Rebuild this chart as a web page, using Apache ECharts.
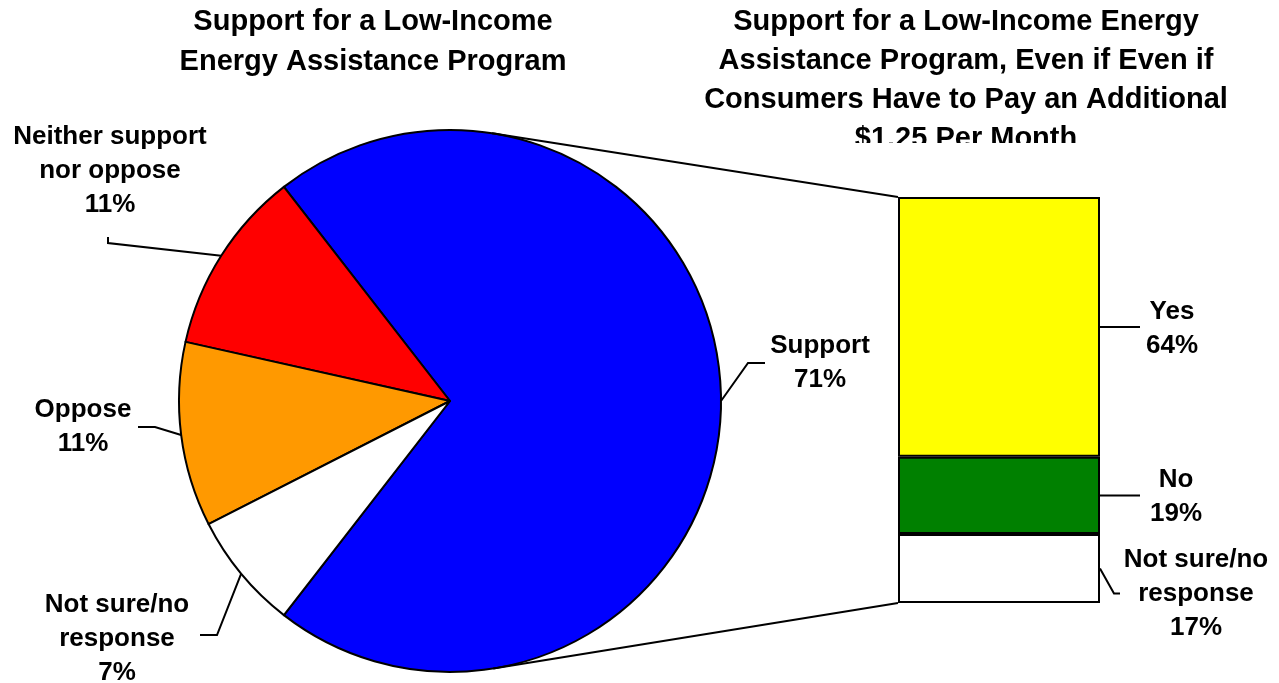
<!DOCTYPE html>
<html>
<head>
<meta charset="utf-8">
<script src="https://cdn.jsdelivr.net/npm/echarts@6/dist/echarts.min.js"></script>
<style>
html,body{margin:0;padding:0;background:#fff;}
#main{width:1279px;height:683px;}
</style>
</head>
<body>
<div id="main"></div>
<script>
// data
var pieNames = ['Support', 'Neither support\nnor oppose', 'Oppose', 'Not sure/no\nresponse'];
var pieValues = [71, 11, 11, 7];
var pieColors = ['#0000ff', '#ff0000', '#ff9900', '#ffffff'];

var barNames = ['Not sure/no\nresponse', 'No', 'Yes'];   // bottom -> top
var barValues = [17, 19, 64];
var barColors = ['#ffffff', '#008000', '#ffff00'];

var leftTitle = 'Support for a Low-Income\nEnergy Assistance Program';
var rightTitle = 'Support for a Low-Income Energy\nAssistance Program, Even if Even if\nConsumers Have to Pay an Additional\n$1.25 Per Month';

// layout
var PIE_CX = 450, PIE_CY = 401, PIE_R = 271;
var GRID_L = 898, GRID_T = 197, GRID_W = 202, GRID_H = 406;
var FONT = '"Liberation Sans", Arial, sans-serif';
var LABEL_SIZE = 26;

// label places (center of text) and the bend / end of each leader line
var pieLabelPos = [[820, 363], [110, 171], [83, 427], [117, 639]];
var pieLineBend = [[[748, 363], [765, 363]], [[108, 243], [108, 237]], [[155, 427], [138, 427]], [[217, 635], [200, 635]]];
var barLabelPos = [[1196, 594], [1176, 497], [1172, 329]];
// leader after the bar edge: [dx, dy] offsets of bend and end
var barLineBend = [[[14, 25], [20, 25]], [[20, 0], [40, 0]], [[20, 0], [40, 0]]];

initPage();

function initPage(){
    var myChart = echarts.init(document.getElementById('main'));

    var pieData = [];
    for (var i = 0; i < pieValues.length; i++) {
        pieData.push({
            name: pieNames[i],
            value: pieValues[i],
            itemStyle: { color: pieColors[i] }
        });
    }

    var barSeries = [];
    for (var j = 0; j < barValues.length; j++) {
        barSeries.push({
            name: barNames[j],
            type: 'bar',
            stack: 'total',
            barWidth: '100%',
            data: [barValues[j]],
            itemStyle: { color: barColors[j], borderColor: '#000', borderWidth: 2 },
            label: {
                show: true,
                position: 'inside',
                formatter: '{a}\n{c}%',
                fontFamily: FONT,
                fontWeight: 'bold',
                fontSize: LABEL_SIZE,
                lineHeight: 34,
                color: '#000'
            },
            labelLayout: (function (k) {
                return function () {
                    return {
                        x: barLabelPos[k][0],
                        y: barLabelPos[k][1],
                        align: 'center',
                        verticalAlign: 'middle'
                    };
                };
            })(j),
            emphasis: { disabled: true }
        });
    }

    // connector lines: tangent from the bar corners to the pie circle
    function tangent(px, py, upper) {
        var dx = px - PIE_CX, dy = py - PIE_CY;
        var d = Math.sqrt(dx * dx + dy * dy);
        var base = Math.atan2(dy, dx);
        var off = Math.acos(PIE_R / d);
        var a = upper ? base - off : base + off;
        return [PIE_CX + PIE_R * Math.cos(a), PIE_CY + PIE_R * Math.sin(a)];
    }
    var tTop = tangent(GRID_L, GRID_T, true);
    var tBot = tangent(GRID_L, GRID_T + GRID_H, false);

    var graphics = [
        {
            type: 'text', x: 373, y: 2, z: 10,
            style: { text: leftTitle, align: 'center', verticalAlign: 'top', font: 'bold 29px ' + FONT, lineHeight: 40, fill: '#000' }
        },
        {
            type: 'text', x: 966, y: 2, z: 10,
            style: { text: rightTitle, align: 'center', verticalAlign: 'top', font: 'bold 29px ' + FONT, lineHeight: 39, fill: '#000' }
        },
        {
            // 标题第四行被裁掉一半
            type: 'rect', z: 11,
            shape: { x: 690, y: 143, width: 580, height: 40 },
            style: { fill: '#fff' }
        },
        {
            type: 'polyline', z: 20,
            shape: { points: [tTop, [GRID_L, GRID_T]] },
            style: { stroke: '#000', lineWidth: 2, fill: null }
        },
        {
            type: 'polyline', z: 20,
            shape: { points: [tBot, [GRID_L, GRID_T + GRID_H]] },
            style: { stroke: '#000', lineWidth: 2, fill: null }
        }
    ];

    // bar leader lines, from the middle of each stacked segment
    var cum = 0;
    for (var m = 0; m < barValues.length; m++) {
        var midVal = cum + barValues[m] / 2;
        cum += barValues[m];
        var x0 = GRID_L + GRID_W;
        var y0 = GRID_T + GRID_H * (1 - midVal / 100);
        var b = barLineBend[m];
        graphics.push({
            type: 'polyline', z: 20,
            shape: { points: [[x0, y0], [x0 + b[0][0], y0 + b[0][1]], [x0 + b[1][0], y0 + b[1][1]]] },
            style: { stroke: '#000', lineWidth: 2, fill: null }
        });
    }

    var option = {
        animation: false,
        backgroundColor: '#fff',
        textStyle: { fontFamily: FONT },
        grid: { left: GRID_L, top: GRID_T, width: GRID_W, height: GRID_H, containLabel: false },
        xAxis: { type: 'category', data: [''], show: false },
        yAxis: { type: 'value', min: 0, max: 100, show: false },
        graphic: graphics,
        series: [
            {
                name: 'pie',
                type: 'pie',
                center: [PIE_CX, PIE_CY],
                radius: PIE_R,
                startAngle: 232.2,
                clockwise: false,
                avoidLabelOverlap: false,
                data: pieData,
                itemStyle: { borderColor: '#000', borderWidth: 2 },
                label: {
                    show: true,
                    formatter: '{b}\n{c}%',
                    fontFamily: FONT,
                    fontWeight: 'bold',
                    fontSize: LABEL_SIZE,
                    lineHeight: 34,
                    color: '#000'
                },
                labelLine: { show: true, length: 20, length2: 20, smooth: false, lineStyle: { color: '#000', width: 2 } },
                labelLayout: function (params) {
                    var k = params.dataIndex;
                    var p0 = params.labelLinePoints ? params.labelLinePoints[0] : null;
                    var out = {
                        x: pieLabelPos[k][0],
                        y: pieLabelPos[k][1],
                        align: 'center',
                        verticalAlign: 'middle'
                    };
                    if (p0) {
                        out.labelLinePoints = [p0, pieLineBend[k][0], pieLineBend[k][1]];
                    }
                    return out;
                },
                emphasis: { disabled: true }
            }
        ].concat(barSeries)
    };

    myChart.setOption(option);
}
</script>
</body>
</html>
